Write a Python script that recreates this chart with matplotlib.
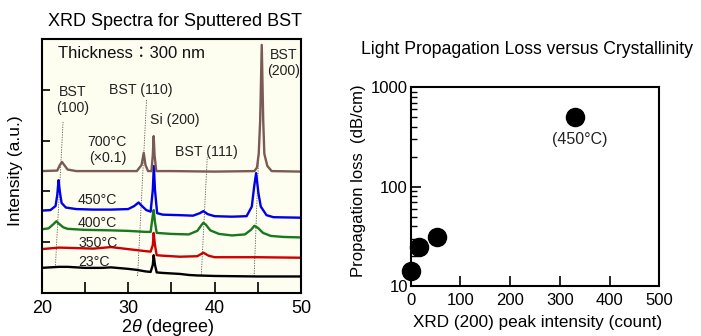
import matplotlib
matplotlib.use("Agg")
import matplotlib.pyplot as plt
from matplotlib.ticker import FixedLocator, LogLocator, NullFormatter

plt.rcParams['font.family'] = ['Liberation Sans', 'Noto Sans CJK JP', 'DejaVu Sans']
plt.rcParams['mathtext.fontset'] = 'custom'
plt.rcParams['mathtext.it'] = 'Liberation Sans:italic'
plt.rcParams['mathtext.rm'] = 'Liberation Sans'

# ---------------- XRD spectra (2theta in degree, intensity in a.u.) ----------------
x_23 = [20, 21, 22, 23, 25, 27, 28, 30, 31, 32, 32.6, 32.85, 32.95, 33.1, 33.3, 34, 35, 36, 37, 38, 40, 45, 50]
y_23 = [0.49, 0.50, 0.51, 0.51, 0.49, 0.49, 0.50, 0.47, 0.45, 0.42, 0.41, 0.55, 0.74, 0.55, 0.40, 0.39, 0.38,
        0.37, 0.35, 0.34, 0.33, 0.32, 0.32]

x_350 = [20, 22, 24, 26, 28, 30, 31, 32, 32.6, 32.85, 32.95, 33.1, 33.3, 34, 36, 38, 38.7, 39.3, 40, 45, 50]
y_350 = [0.86, 0.89, 0.88, 0.87, 0.90, 0.86, 0.84, 0.82, 0.81, 0.94, 1.18, 0.94, 0.74, 0.73, 0.71, 0.72, 0.79,
         0.73, 0.70, 0.70, 0.69]

x_400 = [20, 20.8, 21.4, 21.7, 22.0, 22.5, 23, 25, 28, 30, 32, 32.6, 32.85, 32.95, 33.1, 33.3, 35, 37, 38, 38.5,
         38.7, 39.0, 39.5, 40.5, 42, 43.5, 44.2, 44.6, 45.0, 45.6, 46.5, 48, 50]
y_400 = [1.25, 1.27, 1.36, 1.41, 1.36, 1.29, 1.26, 1.24, 1.23, 1.22, 1.20, 1.20, 1.53, 1.63, 1.39, 1.18, 1.16,
         1.15, 1.22, 1.34, 1.38, 1.34, 1.23, 1.16, 1.13, 1.15, 1.24, 1.32, 1.28, 1.18, 1.12, 1.10, 1.09]

x_450 = [20, 21, 21.6, 21.8, 21.95, 22.1, 22.3, 22.8, 24, 26, 28, 30, 30.7, 31.2, 31.6, 32.1, 32.6, 32.85, 32.97,
         33.1, 33.35, 34, 36, 37.5, 38.3, 38.7, 39.2, 40, 42, 43.7, 44.3, 44.57, 44.8, 45.07, 45.34, 46.0, 46.8, 50]
y_450 = [1.62, 1.63, 1.71, 1.93, 2.22, 1.99, 1.77, 1.68, 1.65, 1.64, 1.64, 1.65, 1.71, 1.78, 1.71, 1.63, 1.60,
         2.03, 2.50, 2.03, 1.57, 1.54, 1.53, 1.52, 1.57, 1.61, 1.55, 1.51, 1.50, 1.51, 1.70, 2.09, 2.36, 1.96,
         1.70, 1.53, 1.49, 1.48]

x_700 = [20, 21.8, 22.1, 22.35, 22.6, 23, 24, 28, 31, 31.55, 31.8, 32.0, 32.3, 32.7, 32.85, 32.95, 33.05, 33.25,
         35, 40, 44.6, 44.9, 45.1, 45.27, 45.45, 45.62, 45.75, 46.1, 46.6, 50]
y_700 = [2.40, 2.41, 2.52, 2.58, 2.52, 2.43, 2.40, 2.40, 2.40, 2.52, 2.76, 2.52, 2.40, 2.40, 2.72, 3.09, 2.72,
         2.40, 2.40, 2.39, 2.40, 2.47, 2.74, 3.40, 4.89, 3.40, 2.74, 2.50, 2.40, 2.39]

spectra = [
    (x_23, y_23, "#000000"),
    (x_350, y_350, "#cc0000"),
    (x_400, y_400, "#18781e"),
    (x_450, y_450, "#0000e6"),
    (x_700, y_700, "#7a5a55"),
]

# peak guide lines: (x_bottom, x_top) and (y_bottom, y_top)
guides_x = [(21.59, 22.47), (31.09, 32.13), (38.46, 39.15), (44.57, 45.55)]
guides_y = [(0.54, 3.37), (0.33, 3.83), (0.35, 2.68), (0.32, 4.80)]

# ---------------- propagation loss ----------------
peak_intensity = [0, 16, 52, 330]
prop_loss = [14.3, 24.5, 31.3, 506]

fig = plt.figure(figsize=(7.01, 3.36), dpi=100)

# ---- left panel ----
ax1 = fig.add_axes([0.0595, 0.1289, 0.370, 0.754])
ax1.set_facecolor("#fdfdf0")
for xs, ys in zip(guides_x, guides_y):
    ax1.plot(xs, ys, color="#555555", lw=0.6, ls=(0, (1.5, 1.5)), zorder=1)
for xs, ys, c in spectra:
    ax1.plot(xs, ys, color=c, lw=1.7, zorder=2)
ax1.set_xlim(20, 50)
ax1.set_ylim(0, 5)
ax1.set_xticks([20, 25, 30, 35, 40, 45, 50])
ax1.set_xticklabels(["20", "", "30", "", "40", "", "50"])
ax1.set_yticks([1, 2, 3, 4])
ax1.set_yticklabels([])
ax1.tick_params(axis="x", direction="in", length=8, width=1.2, labelsize=13, pad=5)
ax1.tick_params(axis="y", direction="in", length=6, width=1.2)
for s in ax1.spines.values():
    s.set_linewidth(1.5)

txt = "#222222"
ax1.text(21.9, 4.73, "Thickness：300 nm", fontsize=12, va="center", ha="left", color="#111111")
ax1.text(46.08, 4.54, "BST\n(200)", fontsize=10.2, va="center", ha="left", multialignment="center", color=txt,
         linespacing=1.2)
ax1.text(21.65, 3.80, "BST\n(100)", fontsize=10.2, va="center", ha="left", multialignment="center", color=txt,
         linespacing=1.2)
ax1.text(31.43, 4.0, "BST (110)", fontsize=10.2, va="center", ha="center", color=txt)
ax1.text(35.37, 3.41, "Si (200)", fontsize=10.2, va="center", ha="center", color=txt)
ax1.text(27.6, 2.81, "700°C\n(×0.1)", fontsize=10.2, va="center", ha="center", color=txt, linespacing=1.2)
ax1.text(39.07, 2.78, "BST (111)", fontsize=10.2, va="center", ha="center", color=txt)
for lab, yy in [("450°C", 1.83), ("400°C", 1.37), ("350°C", 0.99), ("23°C", 0.61)]:
    ax1.text(24.2, yy, lab, fontsize=10.2, va="center", ha="left", color=txt)

fig.text(174.5 / 701, 1 - 22 / 336, "XRD Spectra for Sputtered BST", fontsize=13, ha="center", va="center")
fig.text(16 / 701, 1 - 171 / 336, "Intensity (a.u.)", fontsize=12.5, ha="center", va="center", rotation=90)
fig.text(168 / 701, 1 - 327 / 336, r"2$\theta$ (degree)", fontsize=13, ha="center", va="center")

# ---- right panel ----
ax2 = fig.add_axes([0.5859, 0.1488, 0.3546, 0.5914])
ax2.scatter(peak_intensity, prop_loss, s=170, color="black", zorder=3, clip_on=False)
ax2.set_yscale("log")
ax2.set_xlim(0, 500)
ax2.set_ylim(10, 1000)
ax2.set_xticks([0, 100, 200, 300, 400, 500])
ax2.yaxis.set_major_locator(FixedLocator([10, 100, 1000]))
ax2.set_yticklabels(["10", "100", "1000"])
ax2.yaxis.set_minor_locator(LogLocator(base=10, subs=range(2, 10)))
ax2.yaxis.set_minor_formatter(NullFormatter())
ax2.tick_params(axis="x", direction="in", length=7, width=1.2, labelsize=12, pad=5)
ax2.tick_params(axis="y", which="major", direction="in", length=7, width=1.2, labelsize=12, pad=2)
ax2.tick_params(axis="y", which="minor", direction="in", length=4, width=1.0)
for s in ax2.spines.values():
    s.set_linewidth(1.5)
ax2.text(340, 295, "(450°C)", fontsize=11.5, ha="center", va="center", color=txt)

fig.text(527 / 701, 1 - 50 / 336, "Light Propagation Loss versus Crystallinity", fontsize=12.7, ha="center",
         va="center")
fig.text(358 / 701, 1 - 181 / 336, "Propagation loss  (dB/cm)", fontsize=12, ha="center", va="center",
         rotation=90)
fig.text(538 / 701, 1 - 323 / 336, "XRD (200) peak intensity (count)", fontsize=12.3, ha="center", va="center")

fig.savefig("out.png", dpi=100)
